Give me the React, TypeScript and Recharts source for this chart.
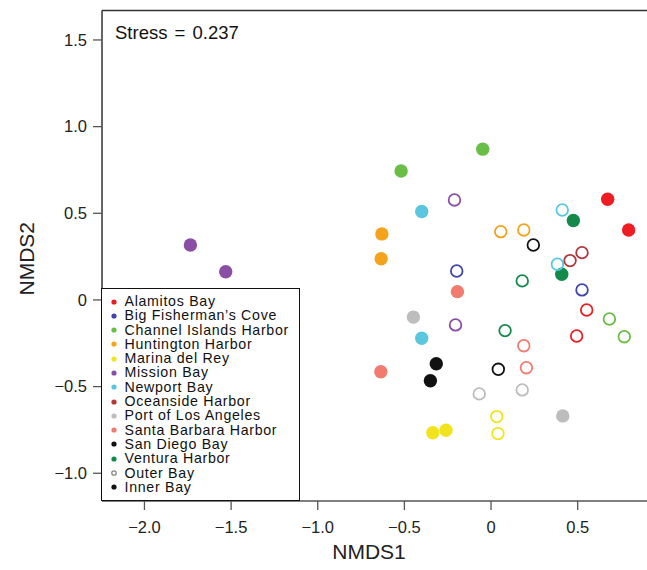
import React from 'react';
import { ScatterChart, Scatter, XAxis, YAxis, ReferenceLine, Legend } from 'recharts';

const sites = [
  'Alamitos Bay',
  'Big Fisherman’s Cove',
  'Channel Islands Harbor',
  'Huntington Harbor',
  'Marina del Rey',
  'Mission Bay',
  'Newport Bay',
  'Oceanside Harbor',
  'Port of Los Angeles',
  'Santa Barbara Harbor',
  'San Diego Bay',
  'Ventura Harbor',
];
const siteColors = [
  '#ee1d23', '#4045ad', '#6abd45', '#f5a31a', '#f2e41c', '#8a4ea6',
  '#5ac7df', '#b0393b', '#bdbdbd', '#f07b6e', '#111111', '#138a4a',
];

// [siteIndex, NMDS1, NMDS2]
const innerBayPoints: [number, number, number][] = [
  [0, 0.673, 0.581], [0, 0.794, 0.404],
  [2, -0.519, 0.744], [2, -0.048, 0.870],
  [3, -0.630, 0.381], [3, -0.634, 0.238],
  [4, -0.336, -0.766], [4, -0.260, -0.752],
  [5, -1.735, 0.317], [5, -1.531, 0.163],
  [6, -0.400, 0.510], [6, -0.400, -0.221],
  [8, -0.448, -0.099], [8, 0.414, -0.669],
  [9, -0.194, 0.048], [9, -0.636, -0.414],
  [10, -0.316, -0.368], [10, -0.350, -0.466],
  [11, 0.475, 0.458], [11, 0.408, 0.148],
];
const outerBayPoints: [number, number, number][] = [
  [0, 0.552, -0.058], [0, 0.494, -0.208],
  [1, -0.198, 0.167], [1, 0.525, 0.058],
  [2, 0.683, -0.110], [2, 0.769, -0.212],
  [3, 0.056, 0.394], [3, 0.189, 0.404],
  [4, 0.033, -0.673], [4, 0.040, -0.771],
  [5, -0.211, 0.577], [5, -0.205, -0.144],
  [6, 0.411, 0.519], [6, 0.383, 0.206],
  [7, 0.525, 0.273], [7, 0.456, 0.227],
  [8, -0.068, -0.542], [8, 0.180, -0.519],
  [9, 0.189, -0.264], [9, 0.204, -0.391],
  [10, 0.244, 0.317], [10, 0.042, -0.400],
  [11, 0.180, 0.110], [11, 0.081, -0.177],
];
const habitatLabels = ['Outer Bay', 'Inner Bay'];
const xTicks = [-2, -1.5, -1, -0.5, 0, 0.5];
const yTicks = [-1, -0.5, 0, 0.5, 1, 1.5];
const stressLabel = 'Stress = 0.237';

const FONT = '"Liberation Sans", Arial, Helvetica, sans-serif';

const fmt = (v: number) => (v === 0 ? '0' : (v < 0 ? '−' : '') + Math.abs(v).toFixed(1));

const FilledDot = (color: string) => (props: any) =>
  props.cx == null ? null : <circle cx={props.cx} cy={props.cy} r={6.7} fill={color} />;
const OpenDot = (color: string) => (props: any) =>
  props.cx == null ? null : (
    <circle cx={props.cx} cy={props.cy} r={5.8} fill="none" stroke={color} strokeWidth={1.8} />
  );

const rowStyle: React.CSSProperties = {
  height: 14.3,
  lineHeight: '14.3px',
  position: 'relative',
  paddingLeft: 22.5,
  whiteSpace: 'nowrap',
};

const LegendBox = () => (
  <div
    style={{
      boxSizing: 'border-box',
      width: 199,
      height: 213.5,
      border: '1.5px solid #111',
      background: '#fff',
      paddingTop: 5.5,
      fontFamily: FONT,
      fontSize: 14.2,
      letterSpacing: 0.7,
      color: '#111',
    }}
  >
    {sites.map((s, i) => (
      <div key={s} style={rowStyle}>
        <svg width={8} height={8} style={{ position: 'absolute', left: 8, top: 3.5 }}>
          <circle cx={4} cy={4} r={2.6} fill={siteColors[i]} />
        </svg>
        {s}
      </div>
    ))}
    {habitatLabels.map((s, i) => (
      <div key={s} style={rowStyle}>
        <svg width={8} height={8} style={{ position: 'absolute', left: 8, top: 3.5 }}>
          {i === 0 ? (
            <circle cx={4} cy={4} r={2.2} fill="none" stroke="#888" strokeWidth={1.3} />
          ) : (
            <circle cx={4} cy={4} r={2.6} fill="#111" />
          )}
        </svg>
        {s}
      </div>
    ))}
  </div>
);

export default function App() {
  const tickStyle = { fontFamily: FONT, fontSize: 16.5, fill: '#222' };
  return (
    <div style={{ position: 'absolute', left: 0, top: 0, width: 647, height: 570, overflow: 'hidden', background: '#fff' }}>
      <ScatterChart width={680} height={570} margin={{ top: 10.5, right: 20, bottom: 0, left: 0 }}>
        <XAxis
          type="number"
          dataKey="x"
          domain={[-2.245, 0.975]}
          ticks={xTicks}
          tickFormatter={fmt}
          allowDataOverflow
          height={69}
          tickSize={9}
          tickMargin={11}
          axisLine={{ stroke: '#555', strokeWidth: 1.3 }}
          tickLine={{ stroke: '#555', strokeWidth: 1.3 }}
          tick={tickStyle}
          label={{ value: 'NMDS1', position: 'center', dx: -12, dy: 16, style: { fontFamily: FONT, fontSize: 21, fill: '#222' } }}
        />
        <YAxis
          type="number"
          dataKey="y"
          domain={[-1.16, 1.67]}
          ticks={yTicks}
          tickFormatter={fmt}
          allowDataOverflow
          width={102}
          tickSize={9}
          tickMargin={6}
          axisLine={{ stroke: '#333', strokeWidth: 1.5 }}
          tickLine={{ stroke: '#555', strokeWidth: 1.3 }}
          tick={tickStyle}
          label={{ value: 'NMDS2', angle: -90, position: 'center', dx: -24, dy: 3, style: { fontFamily: FONT, fontSize: 21, fill: '#222', textAnchor: 'middle' } }}
        />
        <ReferenceLine y={1.67} stroke="#333" strokeWidth={1.5} />
        {innerBayPoints.map((p, i) => (
          <Scatter
            key={'in' + i}
            data={[{ x: p[1], y: p[2] }]}
            shape={FilledDot(siteColors[p[0]])}
            isAnimationActive={false}
            legendType="none"
          />
        ))}
        {outerBayPoints.map((p, i) => (
          <Scatter
            key={'out' + i}
            data={[{ x: p[1], y: p[2] }]}
            shape={OpenDot(siteColors[p[0]])}
            isAnimationActive={false}
            legendType="none"
          />
        ))}
        <Legend
          layout="horizontal"
          verticalAlign="middle"
          align="center"
          content={() => <LegendBox />}
          wrapperStyle={{ left: 101, top: 287.5, width: 199, height: 213.5 }}
        />
      </ScatterChart>
      <div
        style={{
          position: 'absolute',
          left: 115,
          top: 23,
          fontFamily: FONT,
          fontSize: 18.5,
          lineHeight: '20px',
          wordSpacing: 2,
          color: '#111',
          whiteSpace: 'nowrap',
        }}
      >
        {stressLabel}
      </div>
    </div>
  );
}
